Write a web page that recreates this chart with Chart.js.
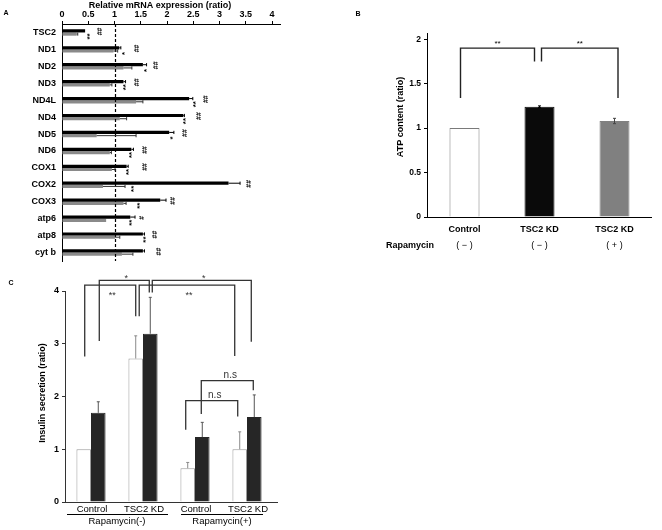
<!DOCTYPE html>
<html><head><meta charset="utf-8">
<script src="https://cdn.jsdelivr.net/npm/chart.js@4/dist/chart.umd.min.js"></script>
<style>
html,body{margin:0;padding:0;background:#fff;}
#wrap{position:relative;width:662px;height:530px;overflow:hidden;background:#fff;}
canvas{position:absolute;}
</style></head><body>
<div id="wrap">
<canvas id="cA" width="330" height="265" style="left:0;top:0;width:330px;height:265px"></canvas>
<canvas id="cB" width="332" height="262" style="left:330px;top:0;width:332px;height:262px"></canvas>
<canvas id="cC" width="330" height="265" style="left:0;top:265px;width:330px;height:265px"></canvas>
</div>
<script>
// ---------- Panel A data ----------
const genes = ['TSC2','ND1','ND2','ND3','ND4L','ND4','ND5','ND6','COX1','COX2','COX3','atp6','atp8','cyt b'];
const kdValues   = [0.44,1.09,1.54,1.17,2.42,2.31,2.04,1.32,1.23,3.17,1.87,1.30,1.54,1.54];
const kdErr      = [0.00,0.03,0.07,0.04,0.07,0.02,0.09,0.04,0.03,0.22,0.11,0.09,0.03,0.03];
const rapaValues = [0.28,0.98,1.17,0.91,1.41,1.10,0.66,0.91,0.95,0.78,1.17,0.84,1.01,1.14];
const rapaErr    = [0.02,0.08,0.16,0.04,0.13,0.13,0.75,0.03,0.06,0.42,0.05,0.00,0.09,0.21];
const hashMarks  = ['##','##','##','##','##','##','##','##','##','##','##','#','##','##'];
const hashAt     = [0.72,1.42,1.79,1.42,2.74,2.61,2.34,1.58,1.58,3.57,2.12,1.52,1.77,1.85];
const starMarks  = ['**','*','*','**','**','**','*','**','**','**','**','**','**',''];
const starAt     = [0.52,1.20,1.61,1.22,2.55,2.36,2.11,1.33,1.28,1.36,1.49,1.33,1.60,0];
const xTicksA    = {min:0, max:4.15, step:0.5};

// ---------- Panel B data ----------
const atpLabels = ['Control','TSC2 KD','TSC2 KD'];
const atpRapa   = ['( \u2212 )','( \u2212 )','( + )'];
const atpValues = [1.00,1.24,1.08];
const atpErr    = [0.00,0.01,0.03];
const atpBrackets = [
  {a:0, b:1, top:1.90, endA:1.34, endB:1.75, dxA:-4, dxB:-5, label:'**'},
  {a:1, b:2, top:1.90, endA:1.75, endB:1.34, dxA:2, dxB:3.5, label:'**'}
];

// ---------- Panel C data ----------
const insGroups = ['Control','TSC2 KD','Control','TSC2 KD'];
const insRapa   = ['Rapamycin(-)','Rapamycin(+)'];
const insWhite    = [1.00,2.72,0.64,1.00];
const insWhiteErr = [0.00,0.43,0.11,0.33];
const insDark     = [1.69,3.19,1.23,1.61];
const insDarkErr  = [0.21,0.69,0.28,0.42];
const insBrackets = [
  {a:[0,0], b:[0,1], top:4.11, endA:2.76, endB:3.52, dxA:1, dxB:0, label:'**', below:true},
  {a:[1,0], b:[1,1], top:4.20, endA:3.05, endB:3.97, dxA:1, dxB:-1, label:'*'},
  {a:[0,1], b:[0,3], top:4.11, endA:3.52, endB:2.77, dxA:3.5, dxB:-5, label:'**', below:true},
  {a:[1,1], b:[1,3], top:4.20, endA:3.97, endB:3.04, dxA:2, dxB:-3, label:'*'},
  {a:[1,2], b:[1,3], top:2.30, endA:1.67, endB:2.12, dxA:-1, dxB:-1, label:'n.s'},
  {a:[0,2], b:[0,3], top:1.92, endA:1.37, endB:1.62, dxA:-2, dxB:-2, label:'n.s'}
];

const FONT = "'Liberation Sans', Arial, sans-serif";
Chart.defaults.devicePixelRatio = 1;
const numFmt = v => String(Math.round(v * 100) / 100);
const noPad = (s, w, h) => {
  if (w !== undefined) s.width = w;
  if (h !== undefined) s.height = h;
  s.paddingTop = 0; s.paddingBottom = 0; s.paddingLeft = 0; s.paddingRight = 0;
};

function txt(ctx, t, x, y, font, align, color){
  ctx.save(); ctx.font = font; ctx.fillStyle = color || '#000';
  ctx.textAlign = align || 'center'; ctx.textBaseline = 'middle';
  ctx.fillText(t, x, y); ctx.restore();
}
function rtxt(ctx, t, x, y, font, color){
  ctx.save(); ctx.translate(x, y); ctx.rotate(-Math.PI/2);
  ctx.font = font; ctx.fillStyle = color || '#000';
  ctx.textAlign = 'center'; ctx.textBaseline = 'middle';
  ctx.fillText(t, 0, 0); ctx.restore();
}
function bracket(ctx, x1, x2, yt, y1, y2, color, lw){
  ctx.save(); ctx.strokeStyle = color; ctx.lineWidth = lw;
  ctx.beginPath(); ctx.moveTo(x1, y1); ctx.lineTo(x1, yt); ctx.lineTo(x2, yt); ctx.lineTo(x2, y2); ctx.stroke();
  ctx.restore();
}
const noInteract = {events: [], animation: false, responsive: false,
  plugins: {legend: {display: false}, tooltip: {enabled: false}}};

// ================= Panel A =================
new Chart(document.getElementById('cA'), {
  type: 'bar',
  data: {labels: genes, datasets: [
    {data: kdValues, backgroundColor: '#000', borderWidth: 0, barPercentage: 1, categoryPercentage: 0.38},
    {data: rapaValues, backgroundColor: '#8a8a8a', borderWidth: 0, barPercentage: 1, categoryPercentage: 0.38}
  ]},
  options: Object.assign({}, noInteract, {
    indexAxis: 'y',
    layout: {padding: {left: 0, right: 50, top: 0, bottom: 4}},
    scales: {
      x: {type: 'linear', position: 'top', min: xTicksA.min, max: xTicksA.max,
        ticks: {stepSize: xTicksA.step, includeBounds: false, color: '#000', padding: 1,
          font: {family: FONT, size: 9, weight: 'bold'}, callback: numFmt},
        grid: {drawOnChartArea: false, drawTicks: true, tickLength: 3, color: '#000'},
        border: {display: true, color: '#000', width: 1},
        afterFit: s => noPad(s, undefined, 24)},
      y: {ticks: {color: '#000', padding: 6, font: {family: FONT, size: 9, weight: 'bold'}},
        grid: {display: false, drawTicks: false},
        border: {display: true, color: '#000', width: 1},
        afterFit: s => noPad(s, 62)}
    }
  }),
  plugins: [{id: 'annA', afterDatasetsDraw(chart){
    const ctx = chart.ctx, xs = chart.scales.x, ys = chart.scales.y, ca = chart.chartArea;
    ctx.save();
    ctx.setLineDash([3, 2]); ctx.strokeStyle = '#000'; ctx.lineWidth = 1.2;
    const x1 = Math.round(xs.getPixelForValue(1)) + 0.5;
    ctx.beginPath(); ctx.moveTo(x1, ca.top); ctx.lineTo(x1, ca.bottom); ctx.stroke();
    ctx.setLineDash([]);
    [[kdValues, kdErr, '#000'], [rapaValues, rapaErr, '#333']].forEach((s, di) => {
      chart.getDatasetMeta(di).data.forEach((bar, i) => {
        if (!s[1][i]) return;
        const xa = xs.getPixelForValue(s[0][i]), xb = xs.getPixelForValue(s[0][i] + s[1][i]);
        const h = bar.height / 2;
        ctx.strokeStyle = s[2]; ctx.lineWidth = 1;
        ctx.beginPath(); ctx.moveTo(xa, bar.y); ctx.lineTo(xb, bar.y);
        ctx.moveTo(xb, bar.y - h); ctx.lineTo(xb, bar.y + h); ctx.stroke();
      });
    });
    genes.forEach((g, i) => {
      const yc = ys.getPixelForValue(i);
      rtxt(ctx, hashMarks[i], xs.getPixelForValue(hashAt[i]), yc - 1, 'bold 7px ' + FONT);
      if (starMarks[i]) rtxt(ctx, starMarks[i], xs.getPixelForValue(starAt[i]), yc + 4, 'bold 8px ' + FONT);
    });
    ctx.restore();
    txt(ctx, 'Relative mRNA expression (ratio)', 160, 6, 'bold 9px ' + FONT);
    txt(ctx, 'A', 6, 13, 'bold 7px ' + FONT);
  }}]
});

// ================= Panel B =================
new Chart(document.getElementById('cB'), {
  type: 'bar',
  data: {labels: atpLabels, datasets: [
    {data: atpValues, backgroundColor: ['#fff', '#0a0a0a', '#808080'],
     borderColor: ['#7a7a7a', '#0a0a0a', '#808080'], borderWidth: 1,
     barPercentage: 1, categoryPercentage: 0.4}
  ]},
  options: Object.assign({}, noInteract, {
    layout: {padding: {left: 0, right: 10, top: 33, bottom: 45}},
    scales: {
      x: {display: false},
      y: {min: 0, max: 2.07,
        ticks: {stepSize: 0.5, includeBounds: false, color: '#000', padding: 3,
          font: {family: FONT, size: 8.5, weight: 'bold'}, callback: numFmt},
        grid: {drawOnChartArea: false, drawTicks: true, tickLength: 3, color: '#000'},
        border: {display: true, color: '#000', width: 1},
        afterFit: s => noPad(s, 97)}
    }
  }),
  plugins: [{id: 'annB', afterDatasetsDraw(chart){
    const ctx = chart.ctx, ys = chart.scales.y, ca = chart.chartArea;
    const meta = chart.getDatasetMeta(0);
    ctx.save();
    ctx.strokeStyle = '#000'; ctx.lineWidth = 1;
    ctx.beginPath(); ctx.moveTo(ca.left, Math.round(ca.bottom) + 0.5); ctx.lineTo(ca.right, Math.round(ca.bottom) + 0.5); ctx.stroke();
    meta.data.forEach((bar, i) => {
      if (!atpErr[i]) return;
      const y1 = ys.getPixelForValue(atpValues[i] - atpErr[i]), y2 = ys.getPixelForValue(atpValues[i] + atpErr[i]);
      ctx.strokeStyle = i === 1 ? '#000' : '#444'; ctx.lineWidth = 1;
      ctx.beginPath(); ctx.moveTo(bar.x, y1); ctx.lineTo(bar.x, y2);
      ctx.moveTo(bar.x - 1.5, y2); ctx.lineTo(bar.x + 1.5, y2);
      ctx.moveTo(bar.x - 1.5, y1); ctx.lineTo(bar.x + 1.5, y1); ctx.stroke();
    });
    atpBrackets.forEach(b => {
      const xa = meta.data[b.a].x + b.dxA, xb = meta.data[b.b].x + b.dxB;
      const yt = ys.getPixelForValue(b.top);
      bracket(ctx, xa, xb, yt, ys.getPixelForValue(b.endA), ys.getPixelForValue(b.endB), '#222', 1.4);
      txt(ctx, b.label, (xa + xb) / 2, yt - 4, '8px ' + FONT);
    });
    meta.data.forEach((bar, i) => {
      txt(ctx, atpLabels[i], bar.x, 230, 'bold 9px ' + FONT);
      txt(ctx, atpRapa[i], bar.x, 246, '9px ' + FONT);
    });
    txt(ctx, 'Rapamycin', 80, 246, 'bold 9px ' + FONT);
    rtxt(ctx, 'ATP content (ratio)', 71, 117, 'bold 9px ' + FONT);
    txt(ctx, 'B', 28, 14, 'bold 7px ' + FONT);
    ctx.restore();
  }}]
});

// ================= Panel C =================
new Chart(document.getElementById('cC'), {
  type: 'bar',
  data: {labels: insGroups, datasets: [
    {data: insWhite, backgroundColor: '#fff', borderColor: '#9a9a9a', borderWidth: 1,
     barPercentage: 1, categoryPercentage: 0.56},
    {data: insDark, backgroundColor: '#262626', borderColor: '#262626', borderWidth: 1,
     barPercentage: 1, categoryPercentage: 0.56}
  ]},
  options: Object.assign({}, noInteract, {
    layout: {padding: {left: 0, right: 57, top: 26, bottom: 28}},
    scales: {
      x: {display: false},
      y: {min: 0, max: 4,
        ticks: {stepSize: 1, color: '#000', padding: 3,
          font: {family: FONT, size: 9, weight: 'bold'}, callback: numFmt},
        grid: {drawOnChartArea: false, drawTicks: true, tickLength: 3, color: '#333'},
        border: {display: true, color: '#333', width: 1},
        afterFit: s => noPad(s, 65)}
    }
  }),
  plugins: [{id: 'annC', afterDatasetsDraw(chart){
    const ctx = chart.ctx, ys = chart.scales.y, ca = chart.chartArea;
    const metas = [chart.getDatasetMeta(0), chart.getDatasetMeta(1)];
    ctx.save();
    ctx.strokeStyle = '#333'; ctx.lineWidth = 1;
    ctx.beginPath(); ctx.moveTo(ca.left, Math.round(ca.bottom) + 0.5); ctx.lineTo(ca.right + 5, Math.round(ca.bottom) + 0.5); ctx.stroke();
    [[insWhite, insWhiteErr, '#8a8a8a'], [insDark, insDarkErr, '#555']].forEach((s, di) => {
      metas[di].data.forEach((bar, i) => {
        if (!s[1][i]) return;
        const y1 = ys.getPixelForValue(s[0][i]), y2 = ys.getPixelForValue(s[0][i] + s[1][i]);
        ctx.strokeStyle = s[2]; ctx.lineWidth = 1;
        ctx.beginPath(); ctx.moveTo(bar.x, y1); ctx.lineTo(bar.x, y2);
        ctx.moveTo(bar.x - 1.5, y2); ctx.lineTo(bar.x + 1.5, y2); ctx.stroke();
      });
    });
    insBrackets.forEach(b => {
      const xa = metas[b.a[0]].data[b.a[1]].x + b.dxA, xb = metas[b.b[0]].data[b.b[1]].x + b.dxB;
      const yt = ys.getPixelForValue(b.top);
      bracket(ctx, xa, xb, yt, ys.getPixelForValue(b.endA), ys.getPixelForValue(b.endB), '#333', 1.3);
      const isStar = b.label.indexOf('*') === 0;
      const ly = b.below ? yt + 10 : yt - (isStar ? 2 : 5);
      txt(ctx, b.label, (xa + xb) / 2 + (isStar ? 2 : 3), ly, (isStar ? '9px ' : '10px ') + FONT, 'center', '#333');
    });
    metas[0].data.forEach((bar, i) => {
      const cx = (bar.x + metas[1].data[i].x) / 2;
      txt(ctx, insGroups[i], cx + 1, 244, '9.5px ' + FONT);
    });
    ctx.strokeStyle = '#000'; ctx.lineWidth = 1;
    ctx.beginPath();
    ctx.moveTo(67, 249.5); ctx.lineTo(168, 249.5);
    ctx.moveTo(181, 249.5); ctx.lineTo(263, 249.5);
    ctx.stroke();
    txt(ctx, insRapa[0], 117, 256, '9.5px ' + FONT);
    txt(ctx, insRapa[1], 222, 256, '9.5px ' + FONT);
    rtxt(ctx, 'Insulin secretion (ratio)', 43, 128, 'bold 9px ' + FONT);
    txt(ctx, 'C', 11, 18, 'bold 7px ' + FONT);
    ctx.restore();
  }}]
});
</script>
</body></html>
